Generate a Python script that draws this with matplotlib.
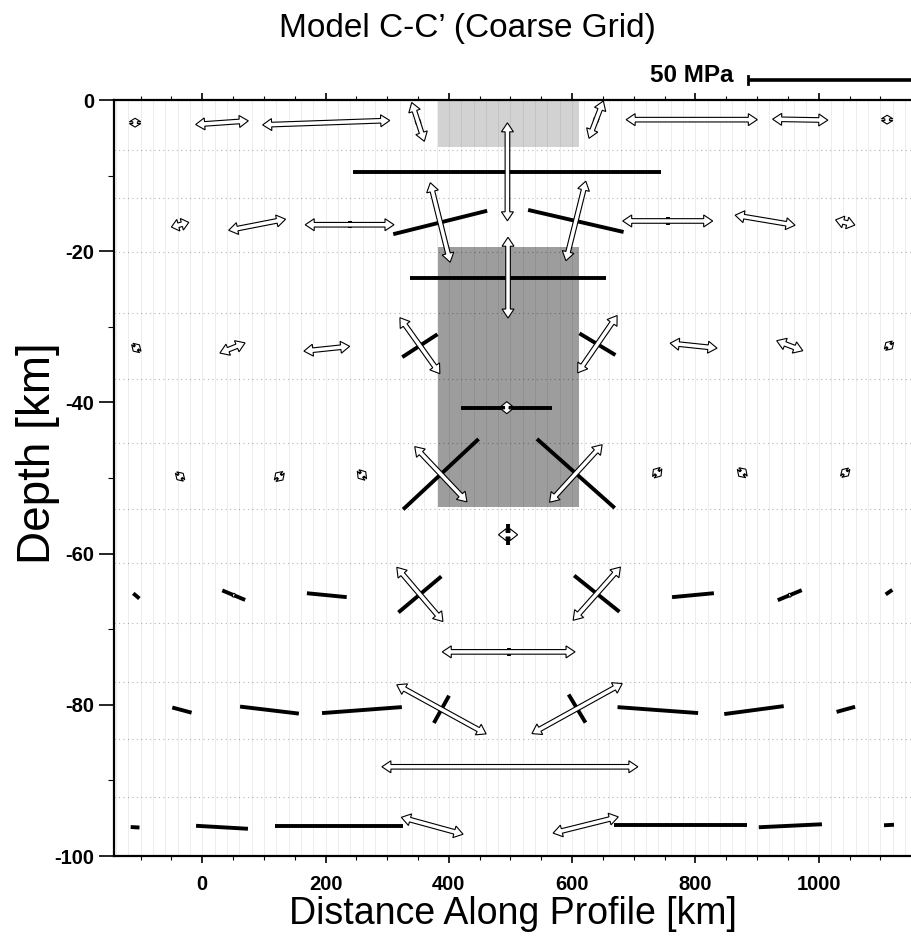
import numpy as np
import matplotlib
matplotlib.use("Agg")
import matplotlib.pyplot as plt
from matplotlib.patches import Polygon, Rectangle

plt.rcParams["font.family"] = ["Liberation Sans", "DejaVu Sans"]
plt.rcParams["axes.unicode_minus"] = False

# glyph centres: distance along profile [km], depth [km]
glyph_x = [-109, 32, 201, 350, 639, 794, 970, 1111,
           495,
           -36, 89, 239, 386, 606, 755, 913, 1043,
           496,
           -107, 49, 202, 353, 641, 797, 953, 1114,
           494,
           -36, 125, 259, 387, 606, 738, 876, 1043,
           496,
           -107, 51, 202, 353, 640, 796, 953, 1114,
           497,
           -33, 109, 259, 388, 608, 739, 895, 1044,
           499,
           -109, 32, 222, 373, 622, 776, 954, 1114]
glyph_z = [-3.0, -3.0, -3.0, -2.9, -2.6, -2.6, -2.6, -2.6,
           -9.5,
           -16.5, -16.5, -16.5, -16.2, -16.0, -16.0, -15.9, -16.2,
           -23.5,
           -32.8, -32.8, -32.9, -32.5, -32.3, -32.5, -32.5, -32.5,
           -40.7,
           -49.8, -49.8, -49.6, -49.5, -49.4, -49.3, -49.3, -49.3,
           -57.5,
           -65.6, -65.5, -65.5, -65.4, -65.3, -65.5, -65.5, -65.1,
           -73.0,
           -80.7, -80.7, -80.7, -80.6, -80.5, -80.7, -80.7, -80.6,
           -88.2,
           -96.2, -96.2, -96.0, -96.0, -95.9, -95.9, -96.0, -95.9]

# tensional principal stress (open double arrows): MPa, angle on page [deg]
tens_mpa = [2.2, 13.2, 31.8, 10.2, 10.0, 32.8, 13.8, 2.2,
            24.5,
            4.5, 14.5, 22.2, 20.5, 20.5, 22.5, 15.2, 5.0,
            20.2,
            2.2, 6.8, 11.5, 17.2, 17.4, 11.8, 7.0, 2.2,
            3.0,
            2.2, 2.5, 2.5, 19.0, 19.5, 2.5, 2.5, 2.2,
            4.8,
            0, 1.0, 0, 17.8, 17.8, 0, 1.0, 0,
            33.2,
            0, 0, 0, 25.5, 25.8, 0, 0, 0,
            64.0,
            0, 0, 0, 16.0, 16.8, 0, 0, 0]
tens_ang = [90, 4, 2, -72, 69, 0, -1, 90,
            90,
            15, 11, 0, -76, 76, 0, -9.5, -15,
            90,
            45, 22, 6, -54.5, 55.5, -6, -21, -45,
            90,
            45, -45, 40, -46.6, 47.6, -40, 45, -45,
            0,
            0, 67, 0, -49.6, 48.4, 0, -67, 0,
            0,
            0, 0, 0, -28.8, 29, 0, 0, 0,
            0,
            0, 0, 0, -15.3, 14, 0, 0, 0]

# compressional principal stress (black bars)
comp_mpa = [0, 0.8, 1.0, 1.5, 1.5, 1.2, 0, 0,
            77.0,
            0, 0.8, 1.8, 24.2, 24.5, 1.8, 0, 0,
            49.2,
            2.0, 0, 3.8, 10.5, 10.5, 3.8, 0, 2.0,
            22.8,
            1.8, 2.0, 2.0, 25.8, 26.0, 2.0, 2.0, 1.8,
            5.2,
            2.0, 6.2, 10.0, 14.0, 14.5, 10.5, 6.5, 2.0,
            2.0,
            5.0, 14.8, 20.0, 7.8, 8.2, 20.2, 15.0, 4.8,
            0,
            2.2, 13.0, 32.0, 0, 0, 33.2, 15.8, 2.5]
comp_ang = [0, 94, 92, 18, -21, 90, 0, 0,
            0,
            0, 101, 90, 14, -13, 90, 0, 0,
            0,
            -45, 0, 6, 33, -31, -6, 0, 45,
            0,
            -45, 45, -50, 43, -41.6, 50, -45, 45,
            90,
            -40, -22.6, -5.6, 40, -38.7, 5.4, 22.6, 35,
            90,
            -15, -6.8, 4.3, 61, -59, -4.2, 7.6, 15.5,
            0,
            -3, -3.3, 0, 0, 0, 0, 2.7, 3]

# shaded blocks: (x0, x1, top, bottom, colour)
blocks_x0 = [382, 382]
blocks_x1 = [611, 611]
blocks_top = [0, -19.4]
blocks_bot = [-6.2, -53.9]
blocks_col = ["#d2d2d2", "#9d9d9d"]

# coarse grid layer boundaries [km]
layer_z = [-6.6, -13.0, -20.1, -28.2, -36.9, -45.4, -54.1, -61.2, -69.2, -77.0, -84.5, -92.2]

xticks = [0, 200, 400, 600, 800, 1000]
xticklabels = ["0", "200", "400", "600", "800", "1000"]
yticks = [0, -20, -40, -60, -80, -100]
yticklabels = ["0", "-20", "-40", "-60", "-80", "-100"]

px_per_mpa = 4.0
scale_mpa = 50

fig = plt.figure(figsize=(9.11, 9.36), dpi=100)
ax = fig.add_axes([114 / 911, 80 / 936, 797 / 911, 756 / 936])
ax.set_xlim(-143.2, 1149.7)
ax.set_ylim(-100, 0)

W, H = 911, 936
sx = 797 / (1149.7 + 143.2)   # px per km along x
sy = 756 / 100.0             # px per km in depth

# background blocks
for x0, x1, t, b, c in zip(blocks_x0, blocks_x1, blocks_top, blocks_bot, blocks_col):
    ax.add_patch(Rectangle((x0, b), x1 - x0, t - b, facecolor=c, edgecolor="none", zorder=0))

# faint mesh
for xv in np.arange(-140, 1150, 20):
    ax.axvline(xv, color=(0, 0, 0, 0.07), lw=0.7, zorder=1)
for zv in layer_z:
    ax.axhline(zv, color=(0, 0, 0, 0.3), lw=0.8, ls=(0, (1, 3)), zorder=1)


def arrow_poly(cx, cz, L, ang):
    h = L / 2.0
    hl = min(9.0, 0.4 * L)
    hw = min(6.0, 0.65 * L)
    sw = min(2.3, 0.4 * hw)
    pts = np.array([[-h, 0], [-h + hl, hw], [-h + hl, sw], [h - hl, sw], [h - hl, hw],
                    [h, 0], [h - hl, -hw], [h - hl, -sw], [-h + hl, -sw], [-h + hl, -hw]])
    a = np.deg2rad(ang)
    rot = np.array([[np.cos(a), -np.sin(a)], [np.sin(a), np.cos(a)]])
    p = pts @ rot.T
    return np.column_stack([cx + p[:, 0] / sx, cz + p[:, 1] / sy])


for x, z, cm, ca in zip(glyph_x, glyph_z, comp_mpa, comp_ang):
    if cm <= 0:
        continue
    L = cm * px_per_mpa
    a = np.deg2rad(ca)
    dx = 0.5 * L * np.cos(a) / sx
    dz = 0.5 * L * np.sin(a) / sy
    ax.plot([x - dx, x + dx], [z - dz, z + dz], color="black", lw=2.8,
            solid_capstyle="butt", zorder=3)

for x, z, tm, ta in zip(glyph_x, glyph_z, tens_mpa, tens_ang):
    if tm <= 0:
        continue
    ax.add_patch(Polygon(arrow_poly(x, z, tm * px_per_mpa, ta), closed=True,
                         facecolor="white", edgecolor="black", lw=0.8, zorder=4))

# 50 MPa scale bar above the frame
bar_z = 20 / sy
bar_x0 = 885
bar_len = scale_mpa * px_per_mpa / sx
ax.plot([bar_x0, bar_x0 + bar_len], [bar_z, bar_z], color="black", lw=2.6,
        solid_capstyle="butt", clip_on=False, zorder=5)
ax.plot([bar_x0, bar_x0], [bar_z - 4 / sy, bar_z + 4 / sy], color="black", lw=2.0,
        clip_on=False, zorder=5)
ax.text(861, 24.5 / sy, "%d MPa" % scale_mpa, ha="right", va="center",
        fontsize=17.5, fontweight="bold", clip_on=False)

ax.set_xticks(xticks)
ax.set_xticklabels(xticklabels, fontsize=14.5, fontweight="bold")
ax.set_xticks(np.arange(-100, 1150, 50), minor=True)
ax.set_yticks(yticks)
ax.set_yticklabels(yticklabels, fontsize=14.5, fontweight="bold")
ax.set_yticks(np.arange(-90, 0, 10), minor=True)
ax.tick_params(axis="x", which="major", direction="out", length=5, width=1.2,
               pad=9, top=True)
ax.tick_params(axis="x", which="minor", direction="out", length=3, width=0.8, top=True)
ax.tick_params(axis="y", which="major", direction="out", length=11, width=1.2, pad=3)
ax.tick_params(axis="y", which="minor", direction="out", length=4, width=0.8)
for s in ["left", "bottom", "top"]:
    ax.spines[s].set_linewidth(1.6)
ax.spines["right"].set_visible(False)

ax.set_xlabel("Distance Along Profile [km]", fontsize=27, labelpad=1)
fig.text(38 / W, 1 - 453 / H, "Depth [km]", rotation=90, ha="center", va="center",
         fontsize=33)
fig.text(467 / W, 1 - 28 / H, "Model C-C\u2019 (Coarse Grid)", ha="center", va="center",
         fontsize=24)

fig.savefig("out.png", dpi=100)
